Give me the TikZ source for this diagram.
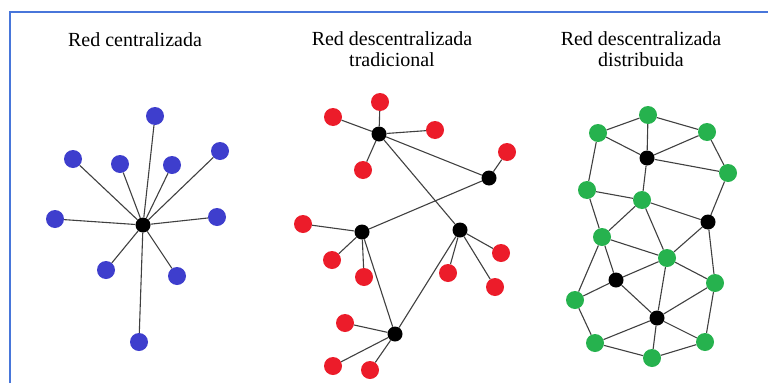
\documentclass[tikz,border=0pt]{standalone}
\usepackage{fontspec}
\setmainfont{Liberation Serif}
\definecolor{nodeblue}{RGB}{62,62,205}
\definecolor{nodered}{RGB}{236,28,42}
\definecolor{nodegreen}{RGB}{38,178,78}
\definecolor{framecol}{RGB}{72,118,218}
\tikzset{
	hub/.style={circle, fill=black, inner sep=0pt, minimum size=15pt},
	leaf/.style={circle, fill=#1, inner sep=0pt, minimum size=18pt},
	link/.style={draw=black!75, line width=1.1pt},
	title/.style={align=center, font=\fontsize{20}{21}\selectfont}
}

\begin{document}
\begin{tikzpicture}[x=1pt,y=-1pt]
        \useasboundingbox (0,0) rectangle (768,383);

        % Frame (right and bottom edges cut off)
        \draw[framecol, line width=1.6pt] (10,383) -- (10,12) -- (768,12);

        % Titles
        \node[title] (t1) at (135,40) {Red centralizada};
        \node[title] (t2) at (392,49) {Red descentralizada\\tradicional};
        \node[title] (t3) at (641,49) {Red descentralizada\\distribuida};

        % Centralized: one hub, ten leaves
        \node[hub] (c0) at (143,225) {};
        \foreach \n/\x/\y in {b1/155/116, b2/73/159, b3/120/164, b4/172/165,
                b5/220/151, b6/55/219, b7/217/217, b8/106/270, b9/177/276, b10/139/342}
            \node[leaf=nodeblue] (\n) at (\x,\y) {};
        \foreach \n in {b1,b2,b3,b4,b5,b6,b7,b8,b9,b10}
            \draw[link] (c0) -- (\n);

        % Traditional decentralized: five hubs
        \foreach \n/\x/\y in {hA/379/134, hB/489/178, hC/362/232, hD/460/230, hE/395/334}
            \node[hub] (\n) at (\x,\y) {};
        \foreach \n/\x/\y in {a1/380/102, a2/333/117, a3/435/130, a4/363/170,
                bb1/507/152, c1/303/224, c2/332/260, c3/364/277,
                d1/501/253, d2/448/273, d3/495/287, e1/345/323, e2/333/366, e3/370/370}
            \node[leaf=nodered] (\n) at (\x,\y) {};
        \foreach \h/\n in {hA/a1, hA/a2, hA/a3, hA/a4, hB/bb1, hC/c1, hC/c2, hC/c3,
                hD/d1, hD/d2, hD/d3, hE/e1, hE/e2, hE/e3,
                hA/hB, hA/hD, hB/hC, hC/hE, hD/hE}
            \draw[link] (\h) -- (\n);

        % Distributed: mesh
        \foreach \n/\x/\y in {k1/647/158, k2/708/222, k3/616/280, k4/657/318}
            \node[hub] (\n) at (\x,\y) {};
        \foreach \n/\x/\y in {g1/648/115, g2/598/133, g3/707/132, g4/728/173,
                g5/587/190, g6/642/200, g7/602/237, g8/667/258, g9/715/283,
                g10/575/300, g11/595/343, g12/705/342, g13/652/358}
            \node[leaf=nodegreen] (\n) at (\x,\y) {};
        \foreach \p/\q in {g2/g1, g1/g3, g1/k1, g2/k1, g3/k1, g3/g4, k1/g4, k1/g6,
                g2/g5, g5/g6, g4/k2, g6/k2, g5/g7, g6/g7, g6/g8, g7/g8, k2/g8, k2/g9,
                g7/k3, g7/g10, k3/g8, g8/g9, k3/g10, k3/k4, g8/k4, g9/k4, g9/g12,
                g10/g11, g11/k4, k4/g13, k4/g12, g11/g13, g13/g12}
            \draw[link] (\p) -- (\q);
    \end{tikzpicture}
\end{document}
